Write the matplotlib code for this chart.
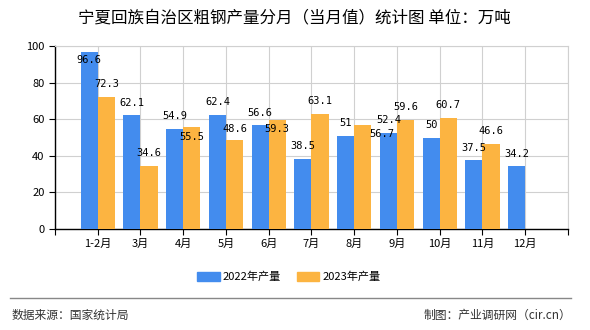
import numpy as np
import matplotlib
matplotlib.use("Agg")
import matplotlib.pyplot as plt
from matplotlib.patches import Patch

plt.rcParams['font.family'] = ['Noto Sans CJK SC', 'DejaVu Sans']

months = ["1-2月", "3月", "4月", "5月", "6月", "7月", "8月", "9月", "10月", "11月", "12月"]
prod_2022 = [96.6, 62.1, 54.9, 62.4, 56.6, 38.5, 51, 52.4, 50, 37.5, 34.2]
prod_2023 = [72.3, 34.6, 55.5, 48.6, 59.3, 63.1, 56.7, 59.6, 60.7, 46.6, None]
lab_2022 = ["96.6", "62.1", "54.9", "62.4", "56.6", "38.5", "51", "52.4", "50", "37.5", "34.2"]
lab_2023 = ["72.3", "34.6", "55.5", "48.6", "59.3", "63.1", "56.7", "59.6", "60.7", "46.6", ""]

BLUE, ORANGE = "#438CEE", "#FCB441"
fig = plt.figure(figsize=(5.9, 3.3), dpi=100)
ax = fig.add_axes([0.0932, 0.306, 0.8695, 0.5546])

x = np.arange(1, len(months) + 1)
w = 0.4
v22 = np.array(prod_2022, float)
v23 = np.array([np.nan if v is None else v for v in prod_2023], float)
ax.bar(x - w / 2, v22, width=w, color=BLUE, zorder=3)
ax.bar(x + w / 2, v23, width=w, color=ORANGE, zorder=3)

# label placement tweaks (dy in data units, dx in slots)
dy22 = [-4.3] + [7] * 10
dy23 = [7, 7, -5, 6, -4.7, 7, -4.7, 7, 7, 7, 7]
dx23 = [0] * 11; dx23[6] = 0.45
for i in range(len(months)):
    ax.text(x[i] - w / 2, v22[i] + dy22[i], lab_2022[i], ha="center", va="center",
            fontsize=7.5, family="DejaVu Sans Mono", zorder=4)
    if not np.isnan(v23[i]):
        ax.text(x[i] + w / 2 + dx23[i], v23[i] + dy23[i], lab_2023[i], ha="center", va="center",
                fontsize=7.5, family="DejaVu Sans Mono", zorder=4)

ax.set_xlim(0, 12); ax.set_ylim(0, 100)
ax.set_xticks(np.arange(0, 13))
ax.set_xticklabels([""] + months + [""], fontsize=8)
ax.set_yticks(np.arange(0, 101, 20))
ax.tick_params(axis="y", labelsize=8, length=4, width=0.8)
ax.tick_params(axis="x", length=4, width=0.8, pad=3)
ax.grid(True, color="#D0D0D0", linewidth=0.8, zorder=0)
for s in ["top", "right"]:
    ax.spines[s].set_color("#D0D0D0")
for s in ["left", "bottom"]:
    ax.spines[s].set_color("black"); ax.spines[s].set_linewidth(1)
ax.set_axisbelow(True)

fig.text(0.499, 0.947, "宁夏回族自治区粗钢产量分月（当月值）统计图 单位：万吨", ha="center", va="center", fontsize=11.9)
fig.legend(handles=[Patch(color=BLUE, label="2022年产量"), Patch(color=ORANGE, label="2023年产量")],
           loc="center", bbox_to_anchor=(0.49, 0.161), ncol=2, frameon=False, fontsize=8,
           handlelength=2.0, handleheight=0.8, columnspacing=1.45, handletextpad=0.3)
fig.add_artist(plt.Line2D([0.017, 0.968], [0.097, 0.097], color="#888888", linewidth=1))
fig.text(0.02, 0.045, "数据来源：国家统计局", ha="left", va="center", fontsize=8.5, color="#333333")
fig.text(0.968, 0.045, "制图：产业调研网（cir.cn）", ha="right", va="center", fontsize=8.5, color="#333333")

fig.savefig("out.png", dpi=100)
